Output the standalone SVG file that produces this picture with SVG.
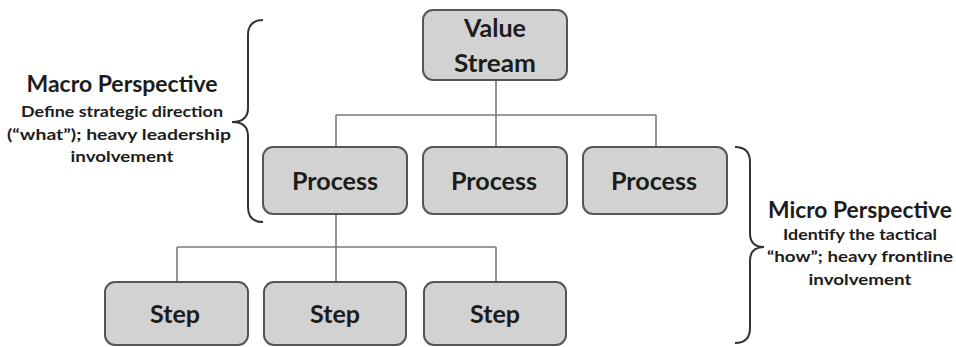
<svg xmlns="http://www.w3.org/2000/svg" width="956" height="347" viewBox="0 0 956 347">
<style>
.box{fill:#d2d2d2;stroke:#555;stroke-width:2}
.lbl{font-family:Lato,"Open Sans","Liberation Sans",sans-serif;font-weight:bold;fill:#1c1c1c;text-anchor:middle}
.n{font-size:24px}
.t{font-size:22px}
.s{font-size:16px}
.ln{fill:none;stroke:#7a7a7a;stroke-width:1.6}
.br{fill:none;stroke:#333;stroke-width:2}
</style>
<rect width="956" height="347" fill="#fff"/>
<g id="connectors">
<path class="ln" d="M496,80 V115 M336,115 H656 M336,115 V147 M496,115 V147 M656,115 V147"/>
<path class="ln" d="M336,214 V247 M177,247 H496 M177,247 V282 M336,247 V282 M496,247 V282"/>
</g>
<g id="value-stream">
<rect class="box" x="423" y="10" width="144" height="70" rx="10"/>
<text class="lbl n" x="495" y="37" textLength="62" lengthAdjust="spacingAndGlyphs">Value</text>
<text class="lbl n" x="495" y="72" textLength="82" lengthAdjust="spacingAndGlyphs">Stream</text>
</g>
<g id="process-1">
<rect class="box" x="263" y="147" width="144" height="67" rx="10"/>
<text class="lbl n" x="335" y="190" textLength="86" lengthAdjust="spacingAndGlyphs">Process</text>
</g>
<g id="process-2">
<rect class="box" x="423" y="147" width="144" height="67" rx="10"/>
<text class="lbl n" x="494" y="190" textLength="86" lengthAdjust="spacingAndGlyphs">Process</text>
</g>
<g id="process-3">
<rect class="box" x="583" y="147" width="144" height="67" rx="10"/>
<text class="lbl n" x="654" y="190" textLength="86" lengthAdjust="spacingAndGlyphs">Process</text>
</g>
<g id="step-1">
<rect class="box" x="105" y="282" width="143" height="63" rx="10"/>
<text class="lbl n" x="175" y="323" textLength="50" lengthAdjust="spacingAndGlyphs">Step</text>
</g>
<g id="step-2">
<rect class="box" x="264" y="282" width="142" height="63" rx="10"/>
<text class="lbl n" x="335" y="323" textLength="50" lengthAdjust="spacingAndGlyphs">Step</text>
</g>
<g id="step-3">
<rect class="box" x="424" y="282" width="142" height="63" rx="10"/>
<text class="lbl n" x="495" y="323" textLength="50" lengthAdjust="spacingAndGlyphs">Step</text>
</g>
<g id="macro">
<path class="br" d="M263,20 Q248,20 248,35 L248,108 Q248,122 232,122 Q248,122 248,136 L248,207 Q248,222 263,222"/>
<text class="lbl t" x="122" y="92" textLength="191" lengthAdjust="spacingAndGlyphs">Macro Perspective</text>
<text class="lbl s" x="122" y="117" textLength="202" lengthAdjust="spacingAndGlyphs">Define strategic direction</text>
<text class="lbl s" x="119" y="140" textLength="224" lengthAdjust="spacingAndGlyphs">(“what”); heavy leadership</text>
<text class="lbl s" x="122" y="162" textLength="103" lengthAdjust="spacingAndGlyphs">involvement</text>
</g>
<g id="micro">
<path class="br" d="M735,147 Q750,147 750,162 L750,233 Q750,247 764,247 Q750,247 750,261 L750,328 Q750,343 735,343"/>
<text class="lbl t" x="860" y="218" textLength="184" lengthAdjust="spacingAndGlyphs">Micro Perspective</text>
<text class="lbl s" x="860" y="240" textLength="154" lengthAdjust="spacingAndGlyphs">Identify the tactical</text>
<text class="lbl s" x="860" y="262" textLength="186" lengthAdjust="spacingAndGlyphs">“how”; heavy frontline</text>
<text class="lbl s" x="860" y="285" textLength="103" lengthAdjust="spacingAndGlyphs">involvement</text>
</g>
</svg>
